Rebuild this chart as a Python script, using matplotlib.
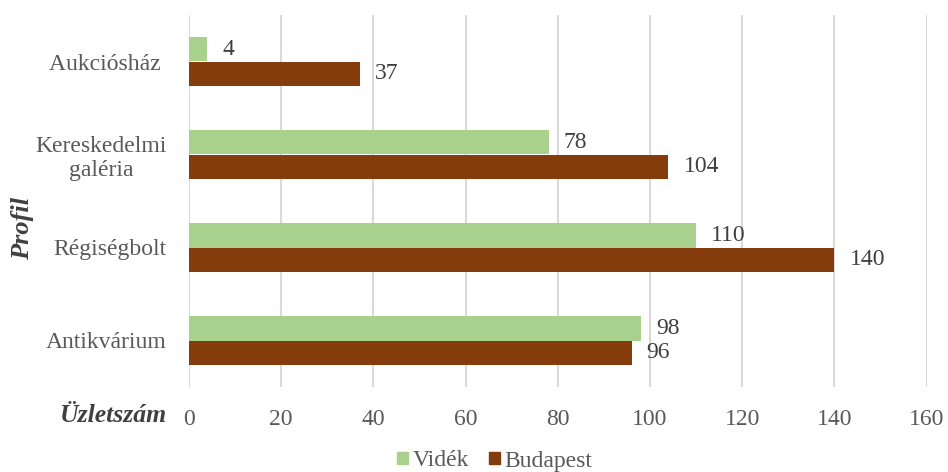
import matplotlib
matplotlib.use("Agg")
import matplotlib.pyplot as plt
import matplotlib.patches as patches
import numpy as np

# Store counts by profile, countryside vs. capital
categories = ["Aukciósház ", "Kereskedelmi\ngaléria", "Régiségbolt", "Antikvárium"]
videk = [4, 78, 110, 98]
budapest = [37, 104, 140, 96]
xticks = [0, 20, 40, 60, 80, 100, 120, 140, 160]

green = "#A9D18E"
brown = "#843C0C"
label_color = "#404040"
tick_color = "#595959"

plt.rcParams["font.family"] = ["Liberation Serif", "DejaVu Serif"]

fig = plt.figure(figsize=(9.48, 4.72), dpi=100)
ax = fig.add_axes([189 / 948, 85 / 472, 737.5 / 948, 372 / 472])

y = np.arange(len(categories))
h = 0.261

bars_v = ax.barh(y - h / 2, videk, height=h, color=green, zorder=3)
bars_b = ax.barh(y + h / 2, budapest, height=h, color=brown, zorder=3)

# Value labels to the right of each bar
for bars, vals in ((bars_v, videk), (bars_b, budapest)):
    for bar, v in zip(bars, vals):
        ax.text(v + 3.3, bar.get_y() + bar.get_height() / 2, str(v),
                va="center", ha="left", fontsize=17, color=label_color)

ax.set_xlim(0, 160)
ax.set_ylim(len(categories) - 0.5, -0.5)
ax.set_xticks(xticks)
ax.set_yticks(y)
ax.set_yticklabels(categories, ha="right", ma="center")
ax.tick_params(axis="y", length=0, pad=16, labelsize=17, labelcolor=tick_color)
ax.tick_params(axis="x", length=0, pad=15.5, labelsize=17, labelcolor=tick_color)

ax.grid(axis="x", color="#D9D9D9", linewidth=1.5, zorder=0)
for s in ax.spines.values():
    s.set_visible(False)

fig.text(23 / 948, 1 - 228 / 472, "Profil", rotation=90, ha="center",
         va="center", fontsize=19, fontweight="bold", style="italic",
         color=label_color)
fig.text(167 / 948, 1 - 416 / 472, "Üzletszám", ha="right", va="center",
         fontsize=18.5, fontweight="bold", style="italic", color=label_color)

handles = [patches.Patch(color=green, label="Vidék"),
           patches.Patch(color=brown, label="Budapest")]
fig.legend(handles=handles, loc="center", bbox_to_anchor=(495 / 948, 1 - 461 / 472),
           ncol=2, frameon=False, fontsize=17, handlelength=0.45,
           handleheight=0.45, handletextpad=0.2, columnspacing=0.85,
           labelcolor=tick_color, borderpad=0.2)

fig.savefig("out.png", dpi=100)
